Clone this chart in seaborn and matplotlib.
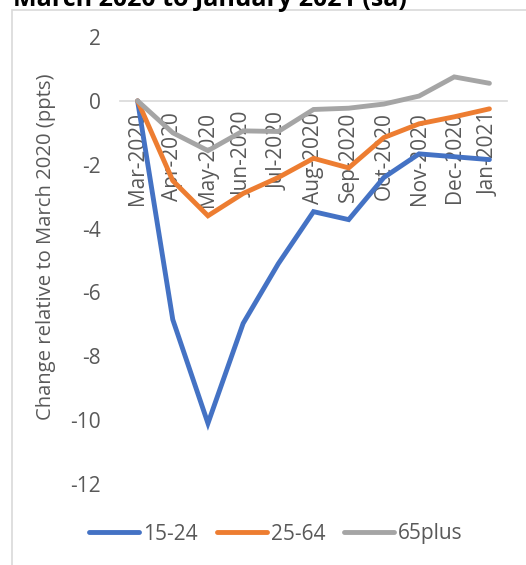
import matplotlib
matplotlib.use("Agg")
import matplotlib.pyplot as plt
import seaborn as sns
import pandas as pd
from matplotlib.patches import Rectangle
from matplotlib.lines import Line2D

months = ["Mar-2020", "Apr-2020", "May-2020", "Jun-2020", "Jul-2020", "Aug-2020",
          "Sep-2020", "Oct-2020", "Nov-2020", "Dec-2020", "Jan-2021"]
s15_24 = [0.0, -6.85, -10.1, -6.97, -5.1, -3.47, -3.72, -2.4, -1.66, -1.75, -1.84]
s25_64 = [0.0, -2.5, -3.6, -2.9, -2.4, -1.8, -2.1, -1.15, -0.72, -0.5, -0.25]
s65plus = [0.0, -1.0, -1.56, -0.94, -0.96, -0.27, -0.23, -0.1, 0.15, 0.75, 0.55]
series_names = ["15-24", "25-64", "65plus"]
colors = ["#4472C4", "#ED7D31", "#A5A5A5"]
yticks = [2, 0, -2, -4, -6, -8, -10, -12]

sns.set_style("white")
plt.rcParams['font.family'] = ['Open Sans', 'DejaVu Sans']
txt = "#595959"

rows = []
for name, vals in zip(series_names, [s15_24, s25_64, s65plus]):
    for i, v in enumerate(vals):
        rows.append({"idx": i, "month": months[i], "value": v, "series": name})
df = pd.DataFrame(rows)

fig = plt.figure(figsize=(5.26, 5.65), dpi=100)
# frame
fig.patches.append(Rectangle((12/526, -0.1), 2, 1 - 10/565 + 0.1, transform=fig.transFigure,
                             fill=False, edgecolor="#D9D9D9", linewidth=1.2, zorder=0))
fig.text(13/526, 1 - 6/565, "March 2020 to January 2021 (sa)", fontsize=18, fontweight='bold',
         color="#000000", ha='left', va='baseline')

ax = fig.add_axes([120/526, 1 - 484/565, (507-120)/526, (484-37)/565])
sns.lineplot(data=df, x="idx", y="value", hue="series", palette=colors, linewidth=3.5,
             ax=ax, legend=False, sort=False)
for l in ax.lines:
    l.set_solid_capstyle('round')
    l.set_solid_joinstyle('miter')

for sp in ["top", "right", "left"]:
    ax.spines[sp].set_visible(False)
ax.spines["bottom"].set_position(("data", 0))
ax.spines["bottom"].set_color("#D9D9D9")
ax.spines["bottom"].set_linewidth(1.2)
ax.spines["bottom"].set_zorder(0.5)

ax.set_xlim(-0.5, len(months) - 0.5)
ax.set_ylim(-12, 2)
ax.set_yticks(yticks)
ax.set_yticklabels([str(t) for t in yticks], color=txt, fontsize=15)
ax.tick_params(axis='y', length=0, pad=14)
ax.set_xticks(range(len(months)))
ax.set_xticklabels(months, rotation=90, color=txt, fontsize=15, va='top', ha='center')
ax.set_xticks([i - 0.5 for i in range(len(months) + 1)], minor=True)
ax.tick_params(axis='x', which='major', length=0, pad=8)
ax.tick_params(axis='x', which='minor', length=4, color="#D9D9D9", width=1.2)
ax.set_xlabel("")
ax.set_ylabel("Change relative to March 2020 (ppts)", color=txt, fontsize=14.6)
ax.yaxis.set_label_coords(-0.165, 0.530)

handles = [Line2D([0], [0], color=c, linewidth=3.5, solid_capstyle='round') for c in colors]
fig.legend(handles, series_names, loc='center', bbox_to_anchor=(276/526, 1 - 534/565),
           ncol=3, frameon=False, fontsize=15, handlelength=2.4, handletextpad=0.2,
           columnspacing=0.9, labelcolor=txt)

fig.savefig("out.png", dpi=100)
